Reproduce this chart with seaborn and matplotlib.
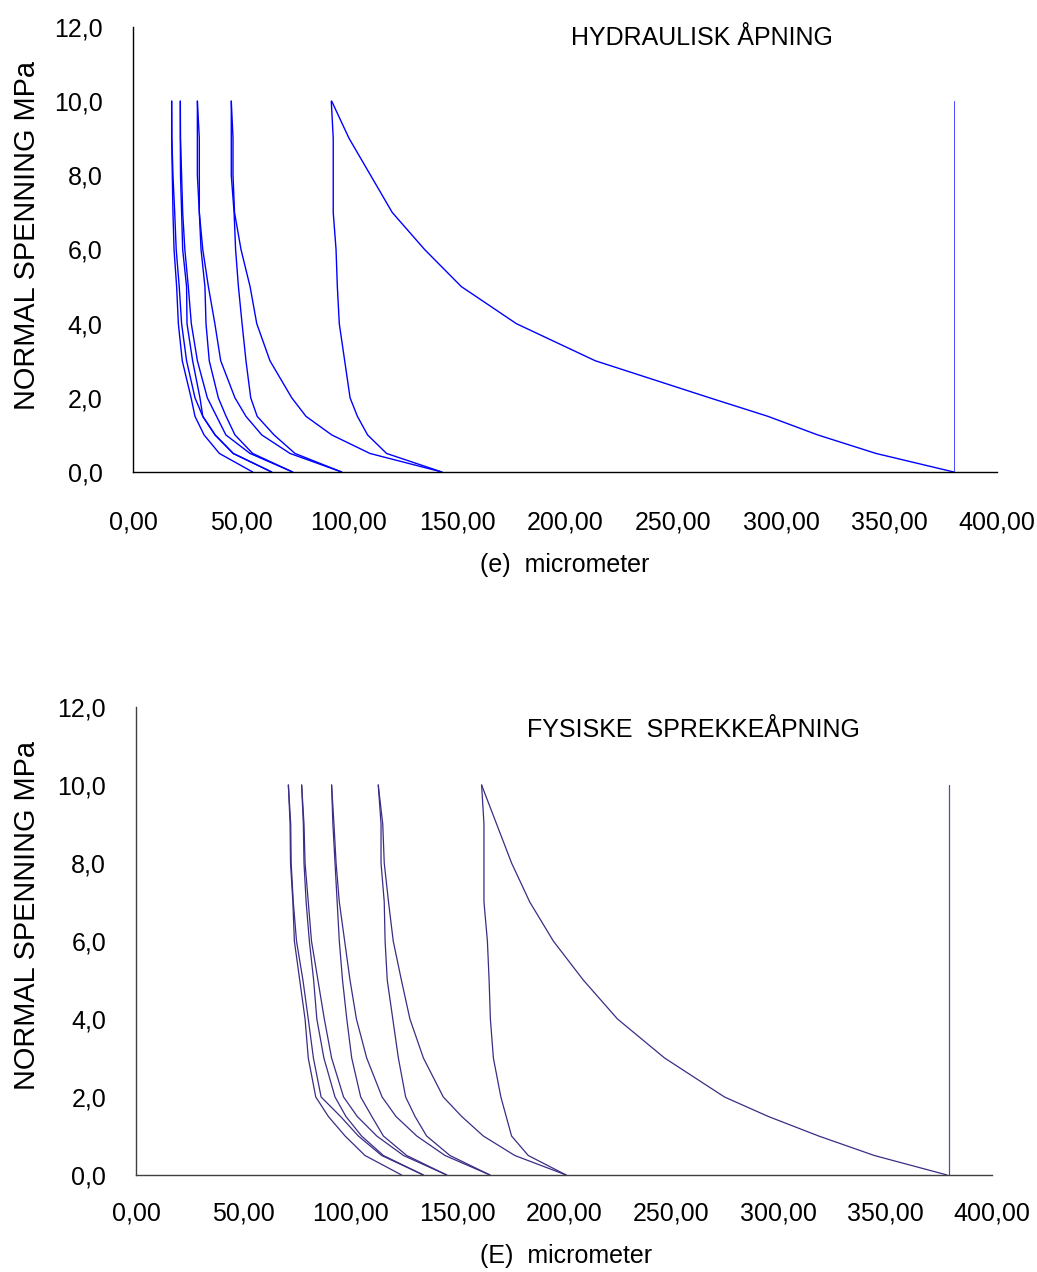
import matplotlib
matplotlib.use('Agg')
import matplotlib.pyplot as plt
import seaborn as sns
import pandas as pd
from matplotlib import font_manager

# normal stress levels (MPa) shared by all loading / unloading curves
stress = [0, 0.5, 1, 1.5, 2, 3, 4, 5, 6, 7, 8, 9, 10]

# hydraulic aperture e (micrometer), one list per loading / unloading branch
e_load1 = [380, 344, 317, 294, 267, 214, 177.5, 152, 135, 120, 110, 100, 92]
e_unload1 = [143, 117.4, 108.6, 103.9, 100.5, 98, 95.5, 94.6, 94, 92.7, 92.7, 92.7, 91.8]
e_load2 = [143, 109.7, 92, 80.1, 73.5, 63.4, 57.3, 54.2, 50, 47, 46.3, 46.3, 45.5]
e_unload2 = [96.6, 75, 65.3, 57.5, 54.5, 52.3, 50.5, 48.8, 47.5, 46.8, 45.5, 45.5, 45.5]
e_load3 = [96.6, 72.7, 59.6, 52.3, 47.2, 40.6, 37.9, 34.9, 32.3, 30.7, 30.7, 30.7, 29.8]
e_unload3 = [73.9, 55.4, 47.2, 43.1, 39.5, 35.3, 33.8, 33.3, 31.5, 30.7, 29.8, 29.8, 29.8]
e_load4 = [73.9, 54.2, 43, 38.7, 34.4, 29.8, 27, 25.6, 24, 23, 22.5, 22, 21.9]
e_unload4 = [64.2, 46.4, 38, 32.3, 31, 27.6, 25, 24.8, 23, 22.5, 22, 21.9, 21.9]
e_load5 = [64.2, 46.4, 38, 32.3, 28.7, 24.8, 22.5, 21.4, 20, 19.3, 18.5, 18, 17.9]
e_unload5 = [55.4, 40, 32.9, 28.7, 26.9, 22.8, 21, 20.2, 19, 18.5, 18.2, 17.9, 17.9]

# physical aperture E (micrometer)
E_load1 = [379, 345, 319, 295.5, 275, 247, 225, 209, 195, 184, 175.5, 168.5, 161.5]
E_unload1 = [201, 183.3, 175.5, 173, 170.5, 167, 165.6, 165, 164.2, 162.6, 162.6, 162.6, 161.5]
E_load2 = [201, 177, 162.3, 152.2, 143.6, 134.3, 128, 124, 120.2, 118, 116, 115.3, 113.2]
E_unload2 = [165.4, 146.7, 135.8, 130.4, 126, 122.6, 120, 117.4, 116.4, 116, 114.5, 114.5, 113.2]
E_load3 = [165.4, 144.4, 131.2, 121.5, 115, 107.8, 103, 100, 97.5, 95, 93.5, 92.5, 91.4]
E_unload3 = [145.2, 126.5, 115.6, 110.2, 105, 100.8, 98.5, 96.5, 95, 94, 93, 92, 91.4]
E_load4 = [145.2, 125, 112.5, 103.4, 97, 91.4, 88, 85, 82, 80.5, 79, 78.5, 77.4]
E_unload4 = [134.3, 115.6, 105.4, 98.1, 93, 87.8, 84.5, 83, 81, 79.5, 78.5, 78.2, 77.4]
E_load5 = [134.3, 114.8, 103.9, 95.6, 86.5, 82.9, 80.5, 78, 75, 73.5, 72.5, 72.3, 71.2]
E_unload5 = [124.1, 107, 97.7, 89.9, 84, 80.5, 79, 76.5, 74, 73.3, 72.2, 72, 71.2]

# vertical reference line at the initial aperture
ref_x = [380, 380]
ref_stress = [0, 10]

x_ticks = [0, 50, 100, 150, 200, 250, 300, 350, 400]
x_tick_labels = ['0,00', '50,00', '100,00', '150,00', '200,00', '250,00', '300,00', '350,00', '400,00']
y_ticks = [0, 2, 4, 6, 8, 10, 12]
y_tick_labels = ['0,0', '2,0', '4,0', '6,0', '8,0', '10,0', '12,0']


def curves_frame(curves):
    rows = []
    for name, xs in curves.items():
        for x, s in zip(xs, stress):
            rows.append({'curve': name, 'aperture': x, 'stress': s})
    return pd.DataFrame(rows)


df_e = curves_frame({'l1': e_load1, 'u1': e_unload1, 'l2': e_load2, 'u2': e_unload2,
                     'l3': e_load3, 'u3': e_unload3, 'l4': e_load4, 'u4': e_unload4,
                     'l5': e_load5, 'u5': e_unload5})
df_E = curves_frame({'l1': E_load1, 'u1': E_unload1, 'l2': E_load2, 'u2': E_unload2,
                     'l3': E_load3, 'u3': E_unload3, 'l4': E_load4, 'u4': E_unload4,
                     'l5': E_load5, 'u5': E_unload5})
df_ref = pd.DataFrame({'aperture': ref_x, 'stress': ref_stress})

sns.set_style('white')
names = {f.name for f in font_manager.fontManager.ttflist}
narrow = 'Liberation Sans Narrow' in names
h_font = 'Liberation Sans Narrow' if narrow else 'Liberation Sans'
h_size = 22 if narrow else 18
plt.rcParams['font.family'] = [h_font, 'DejaVu Sans']
plt.rcParams['text.color'] = 'black'

W, H = 1037, 1272
fig = plt.figure(figsize=(W / 100, H / 100), dpi=100)


def px_axes(left, right, top, bottom):
    return fig.add_axes([left / W, 1 - bottom / H, (right - left) / W, (bottom - top) / H])


def style_axes(ax, spine_color, xpad, ypad):
    ax.set_xlim(0, 400)
    ax.set_ylim(0, 12)
    ax.set_xticks(x_ticks)
    ax.set_xticklabels(x_tick_labels)
    ax.set_yticks(y_ticks)
    ax.set_yticklabels(y_tick_labels)
    for side in ['top', 'right']:
        ax.spines[side].set_visible(False)
    for side in ['left', 'bottom']:
        ax.spines[side].set_color(spine_color)
        ax.spines[side].set_linewidth(1)
    ax.tick_params(axis='x', direction='in', length=7, width=1, color=spine_color,
                   pad=xpad, labelsize=h_size, labelcolor='black')
    ax.tick_params(axis='y', direction='out', length=5, width=1, color=spine_color,
                   pad=ypad, labelsize=h_size, labelcolor='black')
    ax.set_xlabel('')
    ax.set_ylabel('')


# top chart: hydraulic aperture
ax1 = px_axes(133, 997, 27, 472)
sns.lineplot(data=df_e, x='aperture', y='stress', units='curve', estimator=None,
             sort=False, color='#0000ff', lw=1.0, ax=ax1, legend=False)
sns.lineplot(data=df_ref, x='aperture', y='stress', estimator=None, sort=False,
             color='#4a4aff', lw=0.7, ax=ax1, legend=False)
style_axes(ax1, 'black', 28, 17)

# bottom chart: physical aperture
ax2 = px_axes(136, 992, 707, 1175)
sns.lineplot(data=df_E, x='aperture', y='stress', units='curve', estimator=None,
             sort=False, color='#3d2b85', lw=0.9, ax=ax2, legend=False)
sns.lineplot(data=df_ref, x='aperture', y='stress', estimator=None, sort=False,
             color='#5a4a9e', lw=0.9, ax=ax2, legend=False)
style_axes(ax2, '#404040', 19, 16.5)

# titles and axis labels
fig.text(702 / W, 1 - 45 / H, 'HYDRAULISK ÅPNING', ha='center', va='baseline', fontsize=h_size)
fig.text(693 / W, 1 - 737 / H, 'FYSISKE  SPREKKEÅPNING', ha='center', va='baseline', fontsize=h_size)
fig.text(565 / W, 1 - 572 / H, '(e)  micrometer', ha='center', va='baseline', fontsize=h_size)
fig.text(566 / W, 1 - 1263 / H, '(E)  micrometer', ha='center', va='baseline', fontsize=h_size)
for yc in [236, 915]:
    fig.text(27 / W, 1 - yc / H, 'NORMAL SPENNING MPa', rotation=90, ha='center', va='center',
             fontsize=20.8, family=['Liberation Sans', 'DejaVu Sans'])

fig.savefig('out.png', dpi=100)
